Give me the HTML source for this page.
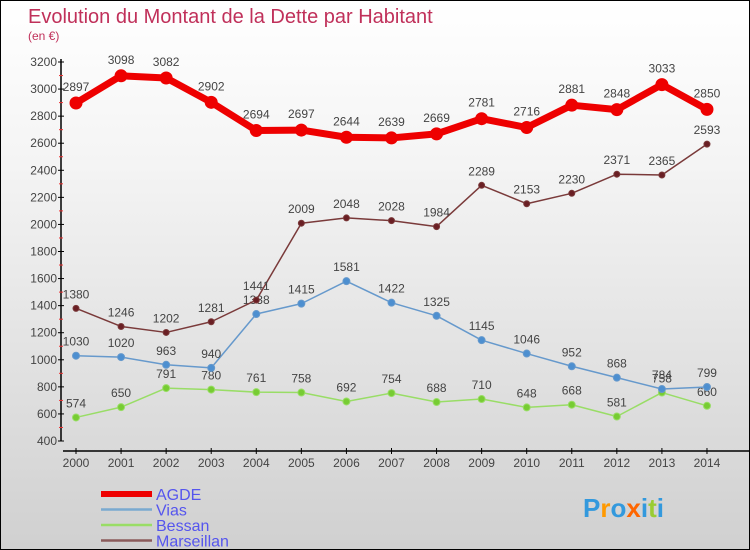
<!DOCTYPE html>
<html><head><meta charset="utf-8"><style>
body{margin:0;}
#c{width:750px;height:550px;position:relative;overflow:hidden;background:linear-gradient(#ffffff,#f4f4f4 30%,#d0d0d0);border:1px solid #000;box-sizing:border-box;font-family:"Liberation Sans",sans-serif;}
</style></head><body>
<div id="c">
<svg id="s" width="750" height="550" style="position:absolute;left:0;top:0">
<text x="27" y="22" font-size="20" fill="#c0305a">Evolution du Montant de la Dette par Habitant</text>
<text x="27" y="39" font-size="12" fill="#c0305a">(en €)</text>
</svg>
</div>
<script>
const years=[2000,2001,2002,2003,2004,2005,2006,2007,2008,2009,2010,2011,2012,2013,2014];
const agde=[2897,3098,3082,2902,2694,2697,2644,2639,2669,2781,2716,2881,2848,3033,2850];
const vias=[1030,1020,963,940,1338,1415,1581,1422,1325,1145,1046,952,868,784,799];
const bessan=[574,650,791,780,761,758,692,754,688,710,648,668,581,758,660];
const marseillan=[1380,1246,1202,1281,1441,2009,2048,2028,1984,2289,2153,2230,2371,2365,2593];
const yTicks=[400,600,800,1000,1200,1400,1600,1800,2000,2200,2400,2600,2800,3000,3200];
const NS="http://www.w3.org/2000/svg";
const svg=document.getElementById('s');
const X=i=>75+i*45.07;
const Y=v=>440-(v-400)*(379/2800);
function el(t,a,p){const e=document.createElementNS(NS,t);for(const k in a)e.setAttribute(k,a[k]);(p||svg).appendChild(e);return e;}
// axes
let ya=el('line',{x1:60,y1:58,x2:60,y2:440,stroke:'#000','stroke-width':1.5});


yTicks.forEach((v,i)=>{
 el('line',{x1:57,x2:63,y1:Y(v),y2:Y(v),stroke:'#000'});
 if(i<yTicks.length-1) el('line',{x1:58,x2:62,y1:Y(v+100),y2:Y(v+100),stroke:'#e33'});
 const t=el('text',{x:56,y:Y(v)+4,'text-anchor':'end','font-size':12,fill:'#444'});
 t.textContent=v;
 
 
});
let xa=el('line',{x1:62,y1:450,x2:750,y2:450,stroke:'#000','stroke-width':1.5});


years.forEach((y,i)=>{
 el('line',{x1:X(i),x2:X(i),y1:447,y2:453,stroke:'#000'});
 const t=el('text',{x:X(i),y:466,'text-anchor':'middle','font-size':12,fill:'#444'});
 t.textContent=y;
 
 
});
function series(name,data,color,w,r,dot,labelDy){
 const g=el('g',{});
 
 
 el('polyline',{points:data.map((v,i)=>X(i)+','+Y(v)).join(' '),fill:'none',stroke:color,'stroke-width':w,'stroke-linejoin':'round'},g);
 data.forEach((v,i)=>{
  const c=el('circle',{cx:X(i),cy:Y(v),r:r,fill:dot,stroke:color,'stroke-width':1},g);
  
  
  const t=el('text',{x:X(i),y:Y(v)+labelDy,'text-anchor':'middle','font-size':12,fill:'#444'},g);
  t.textContent=v;
  
  
 });
}
series('bessan',bessan,'#99dd66',1.5,3.5,'#77cc33',-10);
series('vias',vias,'#6699cc',1.5,3.5,'#4d8fd0',-10);
series('marseillan',marseillan,'#7a3a3a',1.5,3,'#6a1f24',-10);
series('agde',agde,'#ee0000',7,6,'#ee0000',-12);
// legend
const leg=[['AGDE','#ee0000',6],['Vias','#7aaad0',2.5],['Bessan','#99dd66',2.5],['Marseillan','#8a5a5a',2.5]];
leg.forEach((l,i)=>{
 const g=el('g',{});
 
 
 const y=493+i*15.5;
 el('line',{x1:100,x2:151,y1:y,y2:y,stroke:l[1],'stroke-width':l[2]},g);
 const t=el('text',{x:155,y:y+6,'font-size':16,fill:'#5555ee'},g);
 t.textContent=l[0];
});
// logo
const lg=el('text',{x:582,y:516,'font-size':26,'font-weight':'bold','font-family':'Liberation Sans,sans-serif'});


[['P','#3399dd'],['r','#ff9900'],['o','#3399dd'],['x','#ff6600'],['i','#3399dd'],['t','#99cc33'],['i','#3399dd']].forEach(p=>{const s=el('tspan',{fill:p[1]},lg);s.textContent=p[0];});
</script>
</body></html>
